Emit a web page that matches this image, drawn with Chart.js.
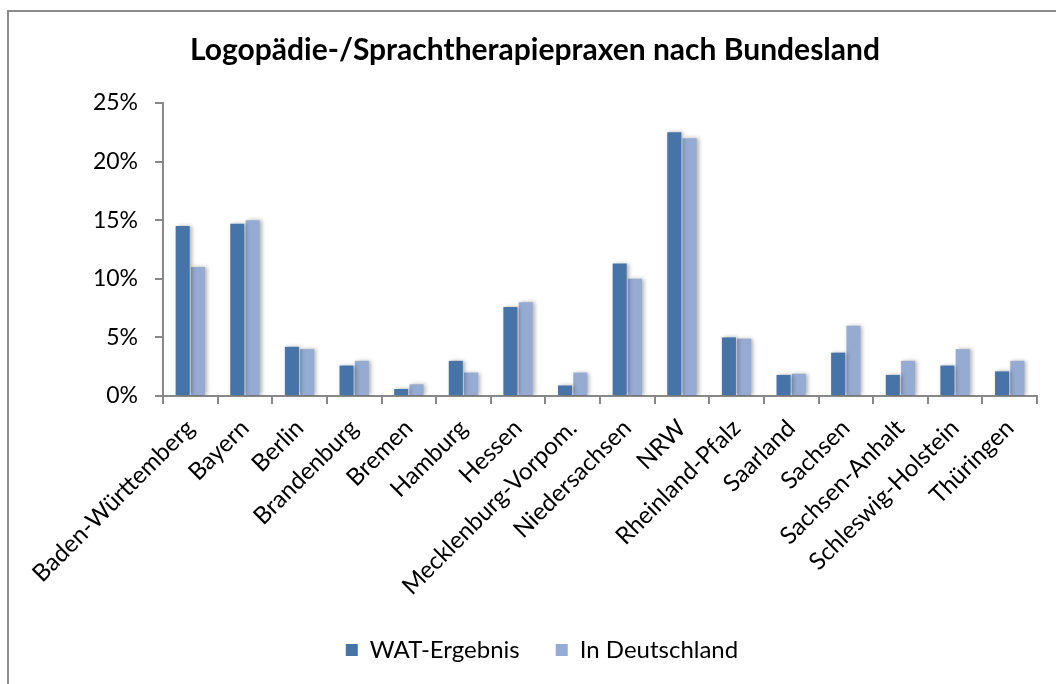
<!DOCTYPE html>
<html>
<head>
<meta charset="utf-8">
<script src="https://cdn.jsdelivr.net/npm/chart.js@4"></script>
<style>
  html, body { margin: 0; padding: 0; background: #fff; }
  #frame { position: absolute; left: 7px; top: 10px; width: 1200px; height: 900px;
           border-left: 2px solid #8c8c8c; border-top: 2px solid #8c8c8c; }
  #wrap { position: absolute; left: 0; top: 0; width: 1056px; height: 684px; }
</style>
</head>
<body>
<div id="frame"></div>
<div id="wrap"><canvas id="barChart"></canvas></div>
<script>
// data (percent)
const laender = ['Baden-Württemberg', 'Bayern', 'Berlin', 'Brandenburg', 'Bremen', 'Hamburg', 'Hessen',
    'Mecklenburg-Vorpom.', 'Niedersachsen', 'NRW', 'Rheinland-Pfalz', 'Saarland', 'Sachsen',
    'Sachsen-Anhalt', 'Schleswig-Holstein', 'Thüringen'];
const watErgebnis = [14.5, 14.7, 4.2, 2.6, 0.6, 3.0, 7.6, 0.9, 11.3, 22.5, 5.0, 1.8, 3.7, 1.8, 2.6, 2.1];
const inDeutschland = [11.0, 15.0, 4.0, 3.0, 1.0, 2.0, 8.0, 2.0, 10.0, 22.0, 4.9, 1.9, 6.0, 3.0, 4.0, 3.0];
const yTicks = [0, 5, 10, 15, 20, 25];

const FONT = 'Lato, "Open Sans", sans-serif';
const axisGray = '#888888';
const padBottom = 12;

// soft shadow behind the bars
const barShadow = {
    id: 'barShadow',
    beforeDatasetsDraw(chart) {
        const ctx = chart.ctx;
        ctx.save();
        ctx.shadowColor = 'rgba(0, 0, 0, 0.3)';
        ctx.shadowBlur = 4;
        ctx.shadowOffsetX = 2;
        ctx.shadowOffsetY = 0;
    },
    afterDatasetsDraw(chart) {
        chart.ctx.restore();
    }
};

// legend sits a little right of the title in the original
const legendShift = {
    id: 'legendShift',
    afterLayout(chart) {
        chart.legend.left += 7;
        chart.legend.right += 7;
    }
};

const barCtx = document.getElementById('barChart').getContext('2d');
new Chart(barCtx, {
    type: 'bar',
    data: {
        labels: laender,
        datasets: [
            {
                label: 'WAT-Ergebnis',
                data: watErgebnis,
                backgroundColor: '#4673a8',
                categoryPercentage: 0.56,
                barPercentage: 0.92
            },
            {
                label: 'In Deutschland',
                data: inDeutschland,
                backgroundColor: '#95abd2',
                categoryPercentage: 0.56,
                barPercentage: 0.92
            }
        ]
    },
    plugins: [barShadow, legendShift],
    options: {
        responsive: true,
        maintainAspectRatio: false,
        animation: false,
        layout: {
            padding: { left: 33, right: 19, top: 0, bottom: padBottom }
        },
        plugins: {
            title: {
                display: true,
                text: 'Logopädie-/Sprachtherapiepraxen nach Bundesland',
                color: '#000',
                font: { family: FONT, size: 30, weight: 'bold', lineHeight: 1.2 },
                padding: { top: 32, bottom: 35 }
            },
            legend: {
                position: 'bottom',
                labels: {
                    color: '#000',
                    font: { family: FONT, size: 24 },
                    boxWidth: 12,
                    boxHeight: 12,
                    padding: 36
                }
            },
            tooltip: { enabled: false }
        },
        scales: {
            x: {
                ticks: {
                    color: '#000',
                    font: { family: FONT, size: 24 },
                    maxRotation: 45,
                    minRotation: 45,
                    autoSkip: false,
                    padding: 10
                },
                grid: {
                    offset: true,
                    drawOnChartArea: false,
                    drawTicks: true,
                    tickLength: 8,
                    color: axisGray,
                    lineWidth: 2
                },
                border: { color: axisGray, width: 2 },
                afterFit(scale) {
                    scale.paddingLeft = 0;
                    scale.paddingRight = 0;
                    scale.height = scale.chart.height - 396 - scale.chart.legend.height - padBottom;
                }
            },
            y: {
                min: 0,
                max: 25,
                afterBuildTicks(scale) {
                    scale.ticks = yTicks.map(v => ({ value: v }));
                },
                ticks: {
                    color: '#000',
                    font: { family: FONT, size: 23 },
                    padding: 17,
                    callback: v => v + '%'
                },
                grid: {
                    drawOnChartArea: false,
                    drawTicks: true,
                    tickLength: 8,
                    color: axisGray,
                    lineWidth: 2
                },
                border: { color: axisGray, width: 2 },
                afterFit(scale) {
                    scale.width = 130;
                }
            }
        }
    }
});
</script>
</body>
</html>
